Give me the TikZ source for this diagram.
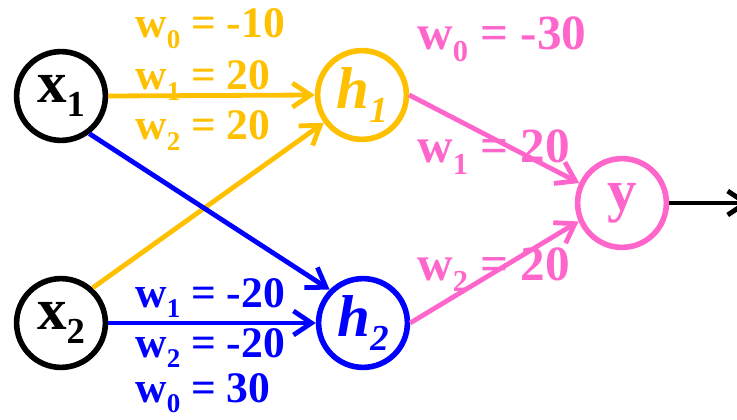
\documentclass[tikz,border=0pt]{standalone}
\usepackage{fontspec}
\setmainfont{Liberation Serif}
\usetikzlibrary{arrows.meta, positioning}
\definecolor{hidorange}{RGB}{255, 192, 0}
\definecolor{hidblue}{RGB}{0, 0, 255}
\definecolor{outpink}{RGB}{255, 102, 204}
\newcommand{\lowsub}[1]{\raisebox{-0.24em}{\scalebox{0.62}{#1}}}
\tikzset{
    neuron/.style={
        draw=#1,
        circle,
        line width=0.14cm,
        minimum size=2.22cm,
        inner sep=0pt,
        font=\fontsize{42}{44}\selectfont\bfseries,
    },
    wlabel/.style={
        anchor=base west,
        inner sep=0pt,
        text=#1,
        font=\fontsize{31}{34}\selectfont\bfseries,
    },
    wbig/.style={
        wlabel=#1,
        font=\fontsize{35}{38}\selectfont\bfseries,
    },
    edge/.style={
        -{Straight Barb[length=0.45cm, width=0.6cm]},
        line width=0.12cm,
        color=#1,
    },
}

\begin{document}
\begin{tikzpicture}

\useasboundingbox (0, 0) rectangle (18.425, 10.475);

% ===== 输入层 =====
\node[neuron=black] (x1) at (1.525, 8.075) {x\lowsub{1}};
\node[neuron=black] (x2) at (1.525, 2.4) {x\lowsub{2}};

% ===== 隐层 =====
\node[neuron=hidorange, text=hidorange] (h1) at (9.05, 8.1) {\itshape h\lowsub{1}};
\node[neuron=hidblue, text=hidblue] (h2) at (9.075, 2.4) {\itshape h\lowsub{2}};

% ===== 输出 =====
\node[neuron=outpink, text=outpink] (y) at (15.55, 5.4) {y};
\coordinate (out) at (18.75, 5.4);

% ===== 权重 h1 =====
\node[wlabel=hidorange] (w10) at (3.375, 9.525) {w\lowsub{0} = -10};
\node[wlabel=hidorange] (w11) at (3.375, 8.225) {w\lowsub{1} = 20};
\node[wlabel=hidorange] (w12) at (3.375, 6.975) {w\lowsub{2} = 20};

% ===== 权重 h2 =====
\node[wlabel=hidblue] (w21) at (3.375, 2.8) {w\lowsub{1} = -20};
\node[wlabel=hidblue] (w22) at (3.375, 1.55) {w\lowsub{2} = -20};
\node[wlabel=hidblue] (w20) at (3.375, 0.42) {w\lowsub{0} = 30};

% ===== 权重 y =====
\node[wbig=outpink] (wy0) at (10.425, 9.225) {w\lowsub{0} = -30};
\node[wbig=outpink] (wy1) at (10.425, 6.4) {w\lowsub{1} = 20};
\node[wbig=outpink] (wy2) at (10.425, 3.475) {w\lowsub{2} = 20};

% 箭头
\draw[edge=hidorange] (x1.east) -- (h1.west);
\draw[edge=hidorange] (x2.48) -- (h1.216);
\draw[edge=hidblue] (x1.-53) -- (h2.135);
\draw[edge=hidblue] (x2.east) -- (h2.west);
\draw[edge=outpink] (h1.east) -- (y.155);
\draw[edge=outpink] (h2.east) -- (y.203);
\draw[edge=black] (y.east) -- (out);

\end{tikzpicture}
\end{document}
